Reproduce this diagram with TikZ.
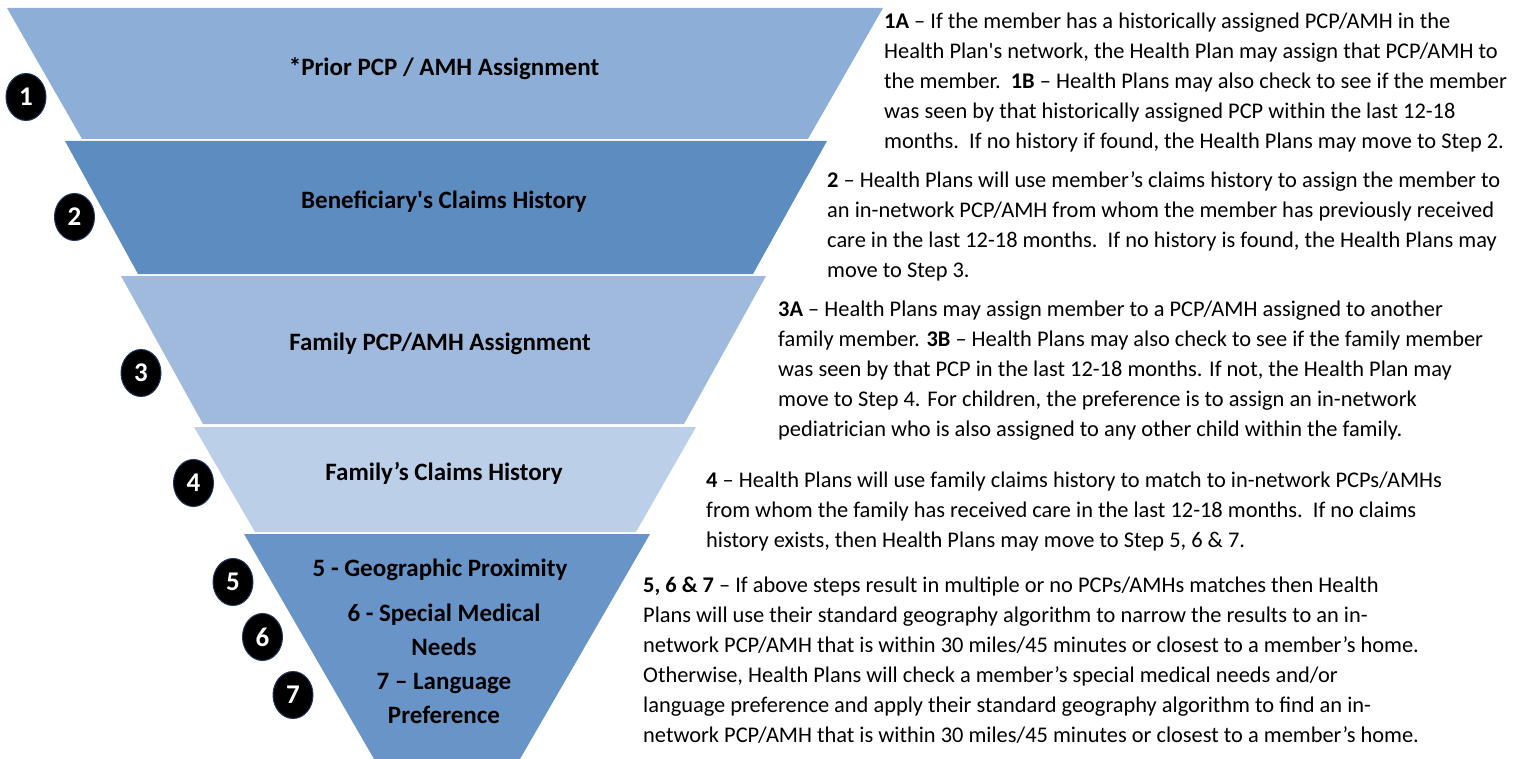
\documentclass[tikz,border=0pt]{standalone}
\usepackage{fontspec}
\setmainfont{Carlito}
\usetikzlibrary{positioning, shapes.geometric}
\definecolor{bandA}{HTML}{8DAFD7}
\definecolor{bandB}{HTML}{5D8CC0}
\definecolor{bandC}{HTML}{A0BADD}
\definecolor{bandD}{HTML}{BBCFE8}
\definecolor{bandE}{HTML}{6894C7}
\definecolor{numedge}{HTML}{1F3864}

\begin{document}
\begin{tikzpicture}[x=1pt, y=-1pt,
  steptext/.style={font=\bfseries\fontsize{25}{34}\selectfont, align=center, inner sep=0pt},
  num/.style={ellipse, fill=black, draw=numedge, line width=1pt, minimum width=40pt, minimum height=47pt, inner sep=0pt, text=white, font=\bfseries\fontsize{27}{27}\selectfont},
  note/.style={anchor=north west, align=left, inner sep=0pt, font=\fontsize{22.4}{30}\selectfont}]
\useasboundingbox (0,0) rectangle (1514,759);

% funnel bands
\fill[bandA] (7,8) -- (883,8) -- (808,139) -- (82,139) -- cycle;
\fill[bandB] (65,141) -- (827,141) -- (753,274) -- (138,274) -- cycle;
\fill[bandC] (121,276) -- (766,276) -- (684,424) -- (203,424) -- cycle;
\fill[bandD] (194,427) -- (696,427) -- (636,532) -- (255,532) -- cycle;
\fill[bandE] (244,534) -- (650,534) -- (520,759) -- (374,759) -- cycle;

% band titles
\node[steptext] (prior) at (444,69) {*Prior PCP / AMH Assignment};
\node[steptext] (benef) at (444,202) {Beneficiary\textquotesingle s Claims History};
\node[steptext] (fam) at (440,344) {Family PCP/AMH Assignment};
\node[steptext] (famclaims) at (444,473) {Family’s Claims History};
\node[steptext] (geo) at (440,570) {5 - Geographic Proximity};
\node[steptext] (med) at (444,630) {6 - Special Medical\\Needs};
\node[steptext] (lang) at (444,698) {7 – Language\\Preference};

% step numbers
\node[num] (n1) at (26,97) {1};
\node[num] (n2) at (74.5,217) {2};
\node[num] (n3) at (141,373) {3};
\node[num] (n4) at (193.5,483) {4};
\node[num] (n5) at (233,582) {5};
\node[num] (n6) at (262.5,637) {6};
\node[num] (n7) at (293,695) {7};

% notes
\node[note] (note1) at (884,13) {\textbf{1A} – If the member has a historically assigned PCP/AMH in the\\
Health Plan\textquotesingle s network, the Health Plan may assign that PCP/AMH to\\
the member.\ \ \textbf{1B} – Health Plans may also check to see if the member\\
was seen by that historically assigned PCP within the last 12-18\\
months.\ \ If no history if found, the Health Plans may move to Step 2.};
\node[note] (note2) at (827,172) {\textbf{2} – Health Plans will use member’s claims history to assign the member to\\
an in-network PCP/AMH from whom the member has previously received\\
care in the last 12-18 months.\ \ If no history is found, the Health Plans may\\
move to Step 3.};
\node[note] (note3) at (778,301) {\textbf{3A} – Health Plans may assign member to a PCP/AMH assigned to another\\
family member. \textbf{3B} – Health Plans may also check to see if the family member\\
was seen by that PCP in the last 12-18 months. If not, the Health Plan may\\
move to Step 4. For children, the preference is to assign an in-network\\
pediatrician who is also assigned to any other child within the family.};
\node[note] (note4) at (706,472) {\textbf{4} – Health Plans will use family claims history to match to in-network PCPs/AMHs\\
from whom the family has received care in the last 12-18 months.\ \ If no claims\\
history exists, then Health Plans may move to Step 5, 6 \& 7.};
\node[note] (note5) at (643,577) {\textbf{5, 6 \& 7} – If above steps result in multiple or no PCPs/AMHs matches then Health\\
Plans will use their standard geography algorithm to narrow the results to an in-\\
network PCP/AMH that is within 30 miles/45 minutes or closest to a member’s home.\\
Otherwise, Health Plans will check a member’s special medical needs and/or\\
language preference and apply their standard geography algorithm to find an in-\\
network PCP/AMH that is within 30 miles/45 minutes or closest to a member’s home.};
\end{tikzpicture}
\end{document}
